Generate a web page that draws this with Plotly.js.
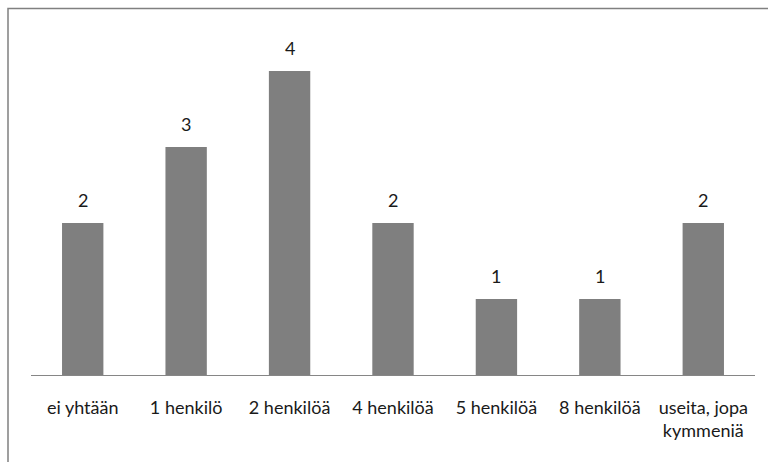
<!DOCTYPE html>
<html>
<head>
<meta charset="utf-8">
<script src="https://cdn.plot.ly/plotly-3.0.1.min.js"></script>
<style>html,body{margin:0;padding:0;background:#fff;}</style>
</head>
<body>
<div id="chart" style="width:768px;height:462px;"></div>
<script>
const categories = ["ei yhtään", "1 henkilö", "2 henkilöä", "4 henkilöä", "5 henkilöä", "8 henkilöä", "useita, jopa<br>kymmeniä"];
const values = [2, 3, 4, 2, 1, 1, 2];
const valueLabels = values.map(String);

const font = {family: "Lato, 'Open Sans', sans-serif", size: 18, color: "#1a1a1a"};

const trace = {
  type: "bar",
  x: categories,
  y: values,
  marker: {color: "#7f7f7f", line: {width: 0}},
  hoverinfo: "skip"
};

const annotations = categories.map((c, i) => ({
  x: c, y: values[i], xref: "x", yref: "y",
  text: valueLabels[i], showarrow: false,
  yanchor: "bottom", yshift: 10,
  font: font
}));

const layout = {
  width: 768, height: 462,
  margin: {l: 31, r: 13, t: 33, b: 87},
  paper_bgcolor: "#fff", plot_bgcolor: "#fff",
  bargap: 0.6,
  showlegend: false,
  font: font,
  xaxis: {
    showline: true, linecolor: "#868686", linewidth: 1,
    ticks: "", showgrid: false, zeroline: false,
    ticklabelstandoff: 16,
    tickfont: font
  },
  yaxis: {
    range: [0, 4.5], visible: false, showgrid: false, zeroline: false
  },
  annotations: annotations,
  shapes: [{
    type: "rect", xref: "paper", yref: "paper",
    x0: (8 - 31) / 724, x1: 1.2, y0: -0.5, y1: 1 + (33 - 8.5) / 342,
    line: {color: "#808080", width: 1.5}, fillcolor: "rgba(0,0,0,0)"
  }]
};

Plotly.newPlot("chart", [trace], layout, {displayModeBar: false, staticPlot: true});
</script>
</body>
</html>
